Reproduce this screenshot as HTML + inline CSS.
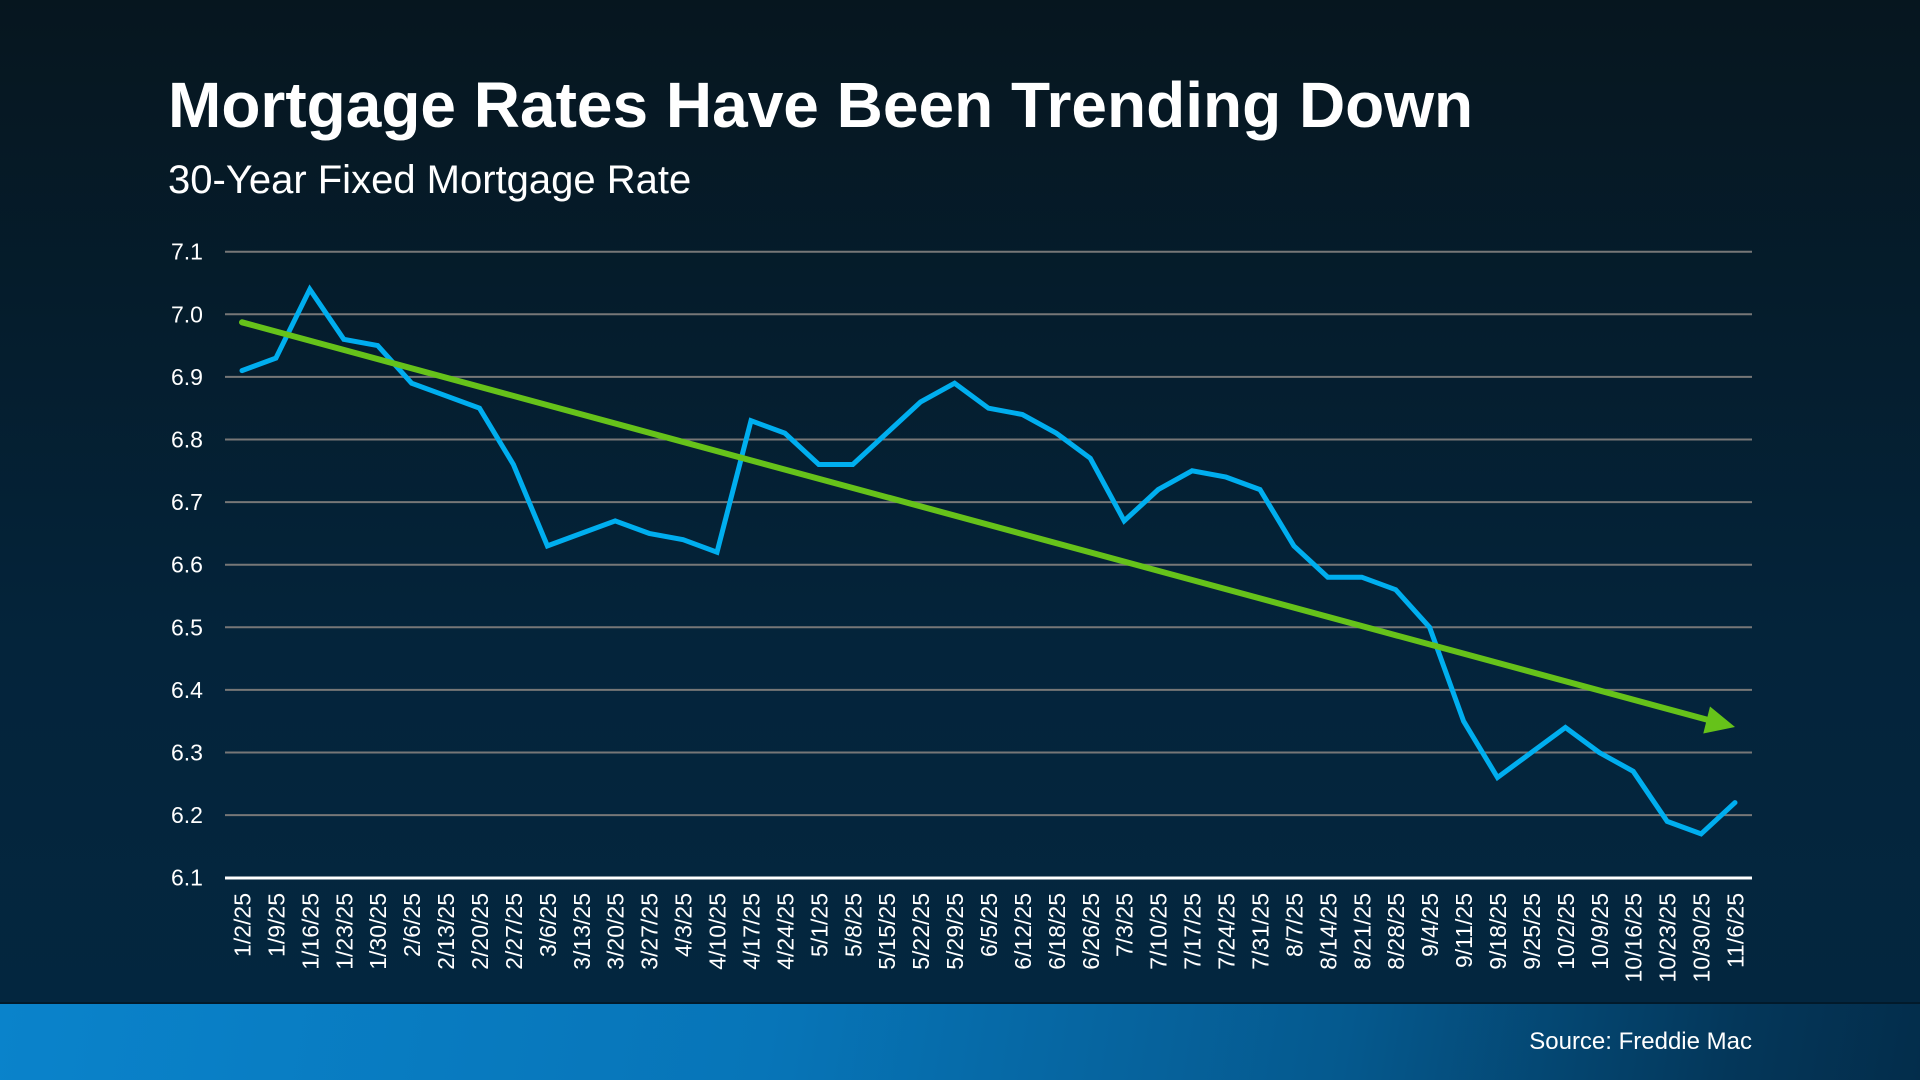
<!DOCTYPE html>
<html>
<head>
<meta charset="utf-8">
<style>
html,body{margin:0;padding:0;width:1920px;height:1080px;overflow:hidden;}
body{background:linear-gradient(180deg,#06161f 0%,#051d2d 30%,#04243b 60%,#032740 100%);font-family:"Liberation Sans",Arial,sans-serif;position:relative;}
#footer{position:absolute;left:0;top:1002px;width:1920px;height:78px;background:linear-gradient(100deg,#0a83cb 0%,#0775b8 40%,#05598e 70%,#04375a 90%,#032d4b 100%);border-top:2px solid #021a2b;box-sizing:border-box;}
svg{position:absolute;left:0;top:0;}
</style>
</head>
<body>
<div id="footer"></div>
<svg width="1920" height="1080" viewBox="0 0 1920 1080" xmlns="http://www.w3.org/2000/svg" font-family="Liberation Sans, Arial, sans-serif">
  <text x="168" y="127" fill="#fff" font-size="64" font-weight="bold">Mortgage Rates Have Been Trending Down</text>
  <text x="168" y="193" fill="#fff" font-size="40">30-Year Fixed Mortgage Rate</text>

  <g stroke="#777" stroke-width="2">
    <line x1="225" y1="251.7" x2="1752" y2="251.7"/>
    <line x1="225" y1="314.3" x2="1752" y2="314.3"/>
    <line x1="225" y1="376.9" x2="1752" y2="376.9"/>
    <line x1="225" y1="439.5" x2="1752" y2="439.5"/>
    <line x1="225" y1="502.1" x2="1752" y2="502.1"/>
    <line x1="225" y1="564.7" x2="1752" y2="564.7"/>
    <line x1="225" y1="627.3" x2="1752" y2="627.3"/>
    <line x1="225" y1="689.9" x2="1752" y2="689.9"/>
    <line x1="225" y1="752.5" x2="1752" y2="752.5"/>
    <line x1="225" y1="815.1" x2="1752" y2="815.1"/>
  </g>
  <line x1="225" y1="878" x2="1752" y2="878" stroke="#fff" stroke-width="3"/>

  <g fill="#fff" font-size="23">
    <text x="171" y="259.7">7.1</text>
    <text x="171" y="322.3">7.0</text>
    <text x="171" y="384.9">6.9</text>
    <text x="171" y="447.5">6.8</text>
    <text x="171" y="510.1">6.7</text>
    <text x="171" y="572.7">6.6</text>
    <text x="171" y="635.3">6.5</text>
    <text x="171" y="697.9">6.4</text>
    <text x="171" y="760.5">6.3</text>
    <text x="171" y="823.1">6.2</text>
    <text x="171" y="885.7">6.1</text>
  </g>

  <g fill="#fff" font-size="23" text-anchor="end">
    <text transform="translate(250.5,893) rotate(-90)">1/2/25</text>
    <text transform="translate(284.4,893) rotate(-90)">1/9/25</text>
    <text transform="translate(318.3,893) rotate(-90)">1/16/25</text>
    <text transform="translate(352.3,893) rotate(-90)">1/23/25</text>
    <text transform="translate(386.2,893) rotate(-90)">1/30/25</text>
    <text transform="translate(420.1,893) rotate(-90)">2/6/25</text>
    <text transform="translate(454.1,893) rotate(-90)">2/13/25</text>
    <text transform="translate(488.0,893) rotate(-90)">2/20/25</text>
    <text transform="translate(521.9,893) rotate(-90)">2/27/25</text>
    <text transform="translate(555.9,893) rotate(-90)">3/6/25</text>
    <text transform="translate(589.8,893) rotate(-90)">3/13/25</text>
    <text transform="translate(623.7,893) rotate(-90)">3/20/25</text>
    <text transform="translate(657.7,893) rotate(-90)">3/27/25</text>
    <text transform="translate(691.6,893) rotate(-90)">4/3/25</text>
    <text transform="translate(725.5,893) rotate(-90)">4/10/25</text>
    <text transform="translate(759.5,893) rotate(-90)">4/17/25</text>
    <text transform="translate(793.4,893) rotate(-90)">4/24/25</text>
    <text transform="translate(827.3,893) rotate(-90)">5/1/25</text>
    <text transform="translate(861.3,893) rotate(-90)">5/8/25</text>
    <text transform="translate(895.2,893) rotate(-90)">5/15/25</text>
    <text transform="translate(929.1,893) rotate(-90)">5/22/25</text>
    <text transform="translate(963.1,893) rotate(-90)">5/29/25</text>
    <text transform="translate(997.0,893) rotate(-90)">6/5/25</text>
    <text transform="translate(1030.9,893) rotate(-90)">6/12/25</text>
    <text transform="translate(1064.9,893) rotate(-90)">6/18/25</text>
    <text transform="translate(1098.8,893) rotate(-90)">6/26/25</text>
    <text transform="translate(1132.7,893) rotate(-90)">7/3/25</text>
    <text transform="translate(1166.7,893) rotate(-90)">7/10/25</text>
    <text transform="translate(1200.6,893) rotate(-90)">7/17/25</text>
    <text transform="translate(1234.5,893) rotate(-90)">7/24/25</text>
    <text transform="translate(1268.5,893) rotate(-90)">7/31/25</text>
    <text transform="translate(1302.4,893) rotate(-90)">8/7/25</text>
    <text transform="translate(1336.3,893) rotate(-90)">8/14/25</text>
    <text transform="translate(1370.3,893) rotate(-90)">8/21/25</text>
    <text transform="translate(1404.2,893) rotate(-90)">8/28/25</text>
    <text transform="translate(1438.1,893) rotate(-90)">9/4/25</text>
    <text transform="translate(1472.1,893) rotate(-90)">9/11/25</text>
    <text transform="translate(1506.0,893) rotate(-90)">9/18/25</text>
    <text transform="translate(1539.9,893) rotate(-90)">9/25/25</text>
    <text transform="translate(1573.9,893) rotate(-90)">10/2/25</text>
    <text transform="translate(1607.8,893) rotate(-90)">10/9/25</text>
    <text transform="translate(1641.7,893) rotate(-90)">10/16/25</text>
    <text transform="translate(1675.7,893) rotate(-90)">10/23/25</text>
    <text transform="translate(1709.6,893) rotate(-90)">10/30/25</text>
    <text transform="translate(1743.5,893) rotate(-90)">11/6/25</text>
  </g>

  <polyline fill="none" stroke="#00aeef" stroke-width="5" stroke-linejoin="miter" stroke-miterlimit="3" stroke-linecap="round"
    points="242.0,370.6 275.9,358.1 309.8,289.3 343.8,339.3 377.7,345.6 411.6,383.2 445.6,395.7 479.5,408.2 513.4,464.5 547.4,545.9 581.3,533.4 615.2,520.9 649.2,533.4 683.1,539.7 717.0,552.2 751.0,420.7 784.9,433.2 818.8,464.5 852.8,464.5 886.7,433.2 920.6,401.9 954.6,383.2 988.5,408.2 1022.4,414.5 1056.4,433.2 1090.3,458.3 1124.2,520.9 1158.2,489.6 1192.1,470.8 1226.0,477.1 1260.0,489.6 1293.9,545.9 1327.8,577.2 1361.8,577.2 1395.7,589.7 1429.6,627.3 1463.6,721.2 1497.5,777.5 1531.4,752.5 1565.4,727.5 1599.3,752.5 1633.2,771.3 1667.2,821.4 1701.1,833.9 1735.0,802.6"/>

  <line x1="242" y1="322.3" x2="1712" y2="721" stroke="#66c21a" stroke-width="6" stroke-linecap="round"/>
  <polygon points="1710,706.5 1703.3,733.5 1735,727" fill="#66c21a"/>

  <text x="1752" y="1049" fill="#fff" font-size="24" text-anchor="end">Source: Freddie Mac</text>
</svg>
</body>
</html>
